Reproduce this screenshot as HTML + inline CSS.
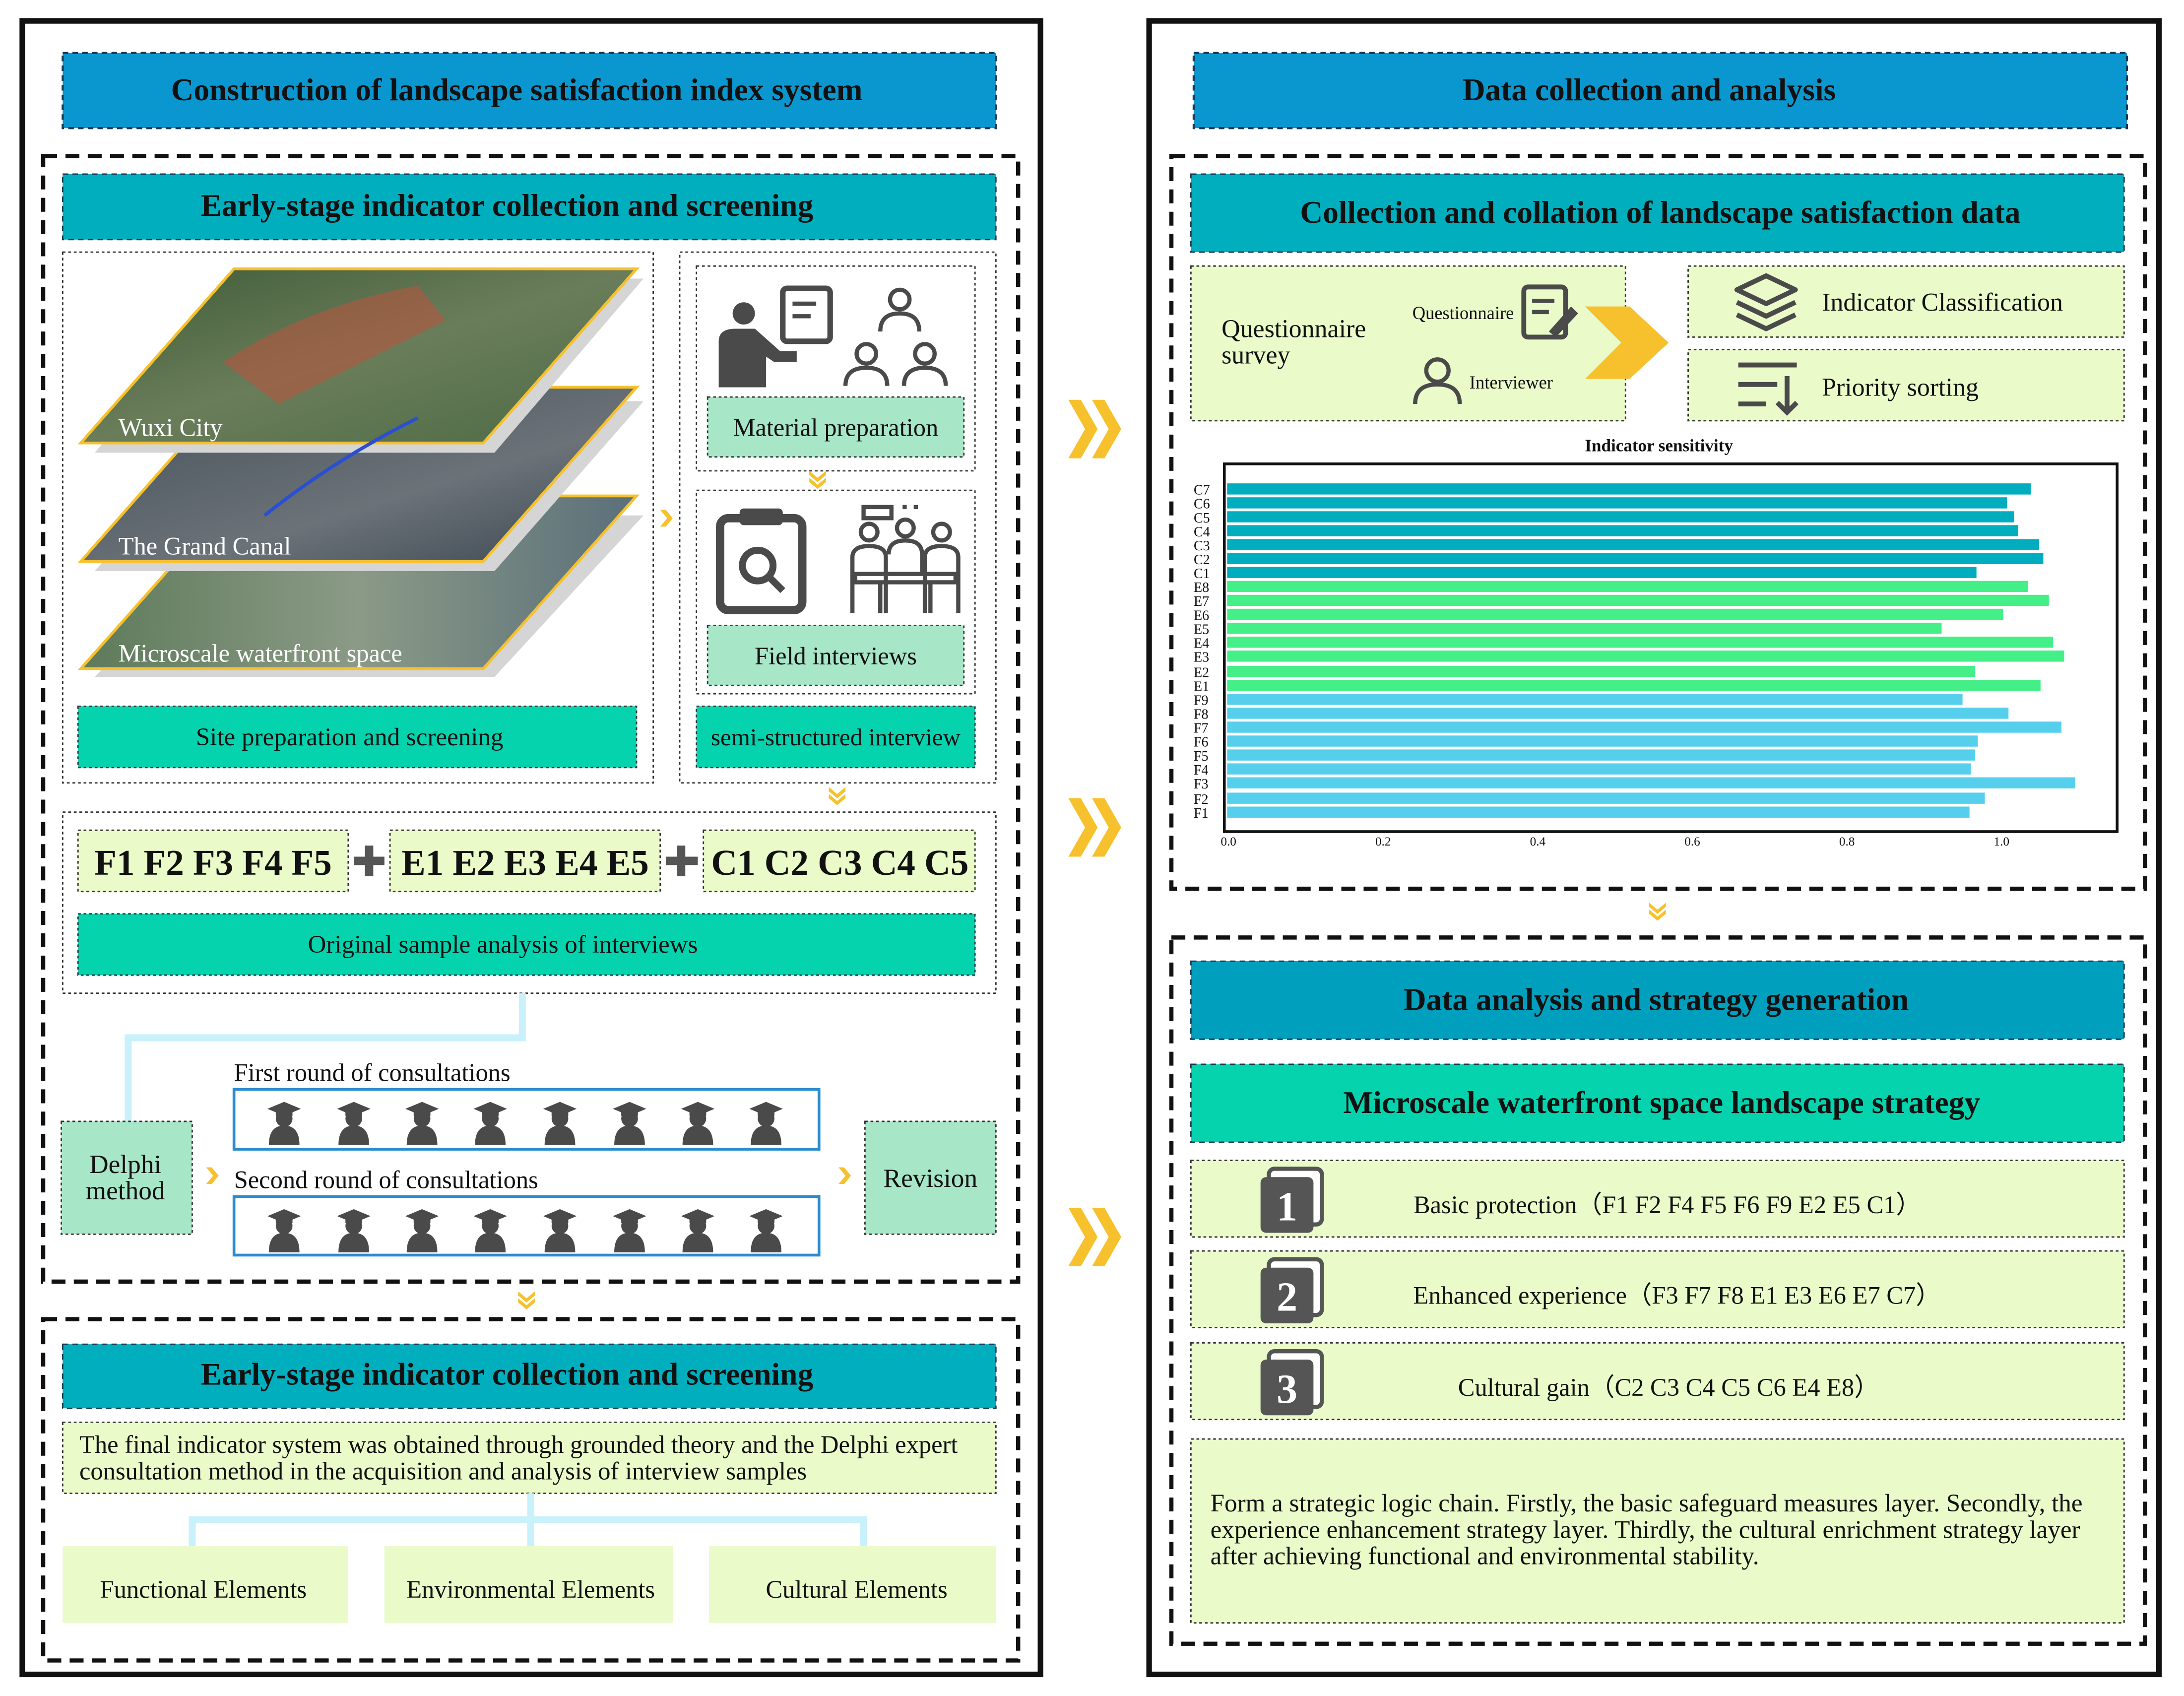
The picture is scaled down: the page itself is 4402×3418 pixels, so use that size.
<!DOCTYPE html>
<html><head><meta charset="utf-8"><style>
html,body{margin:0;padding:0;background:#fff;width:4402px;height:3418px;overflow:hidden}
svg{display:block;font-family:"Liberation Serif","Times New Roman",serif}
svg text{font-family:"Liberation Serif","Times New Roman",serif !important;fill:#111}
.b{font-weight:bold}
</style></head><body>
<svg width="4402" height="3418" viewBox="0 0 1568 1217.5" preserveAspectRatio="none" xmlns="http://www.w3.org/2000/svg" font-family="Liberation Serif, serif">
<defs>
<g id="grad">
<path d="M-11,22 Q-11,8 0,8 Q11,8 11,22 Z" fill="#4a4a4a"/>
<circle cx="0" cy="3" r="6" fill="#4a4a4a"/>
<path d="M-12,-4 L0,-9 L12,-4 L0,1 Z" fill="#4a4a4a"/>
<rect x="-6" y="-3" width="12" height="4" fill="#4a4a4a"/>
</g>
<g id="chev"><path d="M0,0 L9,0 L21,21 L9,42 L0,42 L12,21 Z" fill="#f7c12d"/><path d="M17,0 L26,0 L38,21 L26,42 L17,42 L29,21 Z" fill="#f7c12d"/></g>
<g id="schev"><path d="M0,0 L4,0 L9,6 L4,12 L0,12 L5,6 Z" fill="#f7c12d"/></g>
<g id="dchev"><path d="M0,0 L6,5 L12,0 L12,3 L6,8 L0,3 Z" fill="#f7c12d"/><path d="M0,5 L6,10 L12,5 L12,8 L6,13 L0,8 Z" fill="#f7c12d"/></g>
<g id="numic"><rect x="6" y="-6" width="38" height="40" rx="4" fill="#fff" stroke="#555" stroke-width="3"/><rect x="0" y="0" width="38" height="40" rx="4" fill="#555"/></g>
<linearGradient id="g1" x1="0" y1="0" x2="1" y2="1"><stop offset="0" stop-color="#3e5a36"/><stop offset="0.5" stop-color="#6a7d5a"/><stop offset="1" stop-color="#4c6a44"/></linearGradient>
<linearGradient id="g2" x1="0" y1="0" x2="1" y2="1"><stop offset="0" stop-color="#445058"/><stop offset="0.6" stop-color="#6b7278"/><stop offset="1" stop-color="#3a4650"/></linearGradient>
<linearGradient id="g3" x1="0" y1="0" x2="1" y2="0"><stop offset="0" stop-color="#5e7a5a"/><stop offset="0.5" stop-color="#8b9a86"/><stop offset="1" stop-color="#5a6f7a"/></linearGradient>
</defs>

<rect x="16" y="15" width="731" height="1187" fill="none" stroke="#111" stroke-width="4"/>
<rect x="825" y="15" width="725" height="1187" fill="none" stroke="#111" stroke-width="4"/>

<rect x="45" y="38" width="670" height="54" fill="#0a97cf" stroke="#1a3a55" stroke-width="1.5" stroke-dasharray="4,3"/>
<text x="371" y="72" font-size="22.6" text-anchor="middle" class="b">Construction of landscape satisfaction index system</text>
<rect x="31" y="112" width="700" height="808" fill="none" stroke="#111" stroke-width="3" stroke-dasharray="10,6"/>
<rect x="45" y="125" width="670" height="47" fill="#00aebe" stroke="#1a3a55" stroke-width="1" stroke-dasharray="4,3"/>
<text x="364" y="155" font-size="22.6" text-anchor="middle" class="b">Early-stage indicator collection and screening</text>

<rect x="45" y="181" width="424" height="381" fill="none" stroke="#333" stroke-width="1" stroke-dasharray="2,2"/>
<rect x="488" y="181" width="227" height="381" fill="none" stroke="#333" stroke-width="1" stroke-dasharray="2,2"/>
<polygon points="68,486 175,370 462,370 355,486" fill="#d5d5d5"/>
<polygon points="58,480 168,356 457,356 347,480" fill="url(#g3)" stroke="#f7c12d" stroke-width="2"/>
<polygon points="68,410 175,288 462,288 355,410" fill="#d5d5d5"/>
<polygon points="58,403 168,278 457,278 347,403" fill="url(#g2)" stroke="#f7c12d" stroke-width="2"/>
<polygon points="68,325 175,200 462,200 355,325" fill="#d5d5d5"/>
<polygon points="58,318 168,193 457,193 347,318" fill="url(#g1)" stroke="#f7c12d" stroke-width="2"/>
<path d="M160,260 Q220,220 300,205 L320,230 Q260,260 200,290 Z" fill="#b4553f" opacity="0.6"/>
<path d="M190,370 Q240,330 300,300" fill="none" stroke="#2a4fd0" stroke-width="2.5"/>
<text x="85" y="313" font-size="18" style="fill:#fff">Wuxi City</text>
<text x="85" y="398" font-size="18" style="fill:#fff">The Grand Canal</text>
<text x="85" y="475" font-size="18" style="fill:#fff">Microscale waterfront space</text>
<rect x="56" y="507" width="401" height="44" fill="#05d3ae" stroke="#333" stroke-width="1" stroke-dasharray="2,2"/>
<text x="251" y="535" font-size="18.2" text-anchor="middle">Site preparation and screening</text>

<rect x="500" y="191" width="200" height="147" fill="none" stroke="#333" stroke-width="1" stroke-dasharray="2,2"/>
<circle cx="534" cy="225" r="8" fill="#4a4a4a"/>
<path d="M516,278 L516,245 Q516,236 528,236 L542,236 L560,252 L572,252 L572,260 L556,260 L550,256 L550,278 Z" fill="#4a4a4a"/>
<rect x="562" y="207" width="34" height="38" rx="3" fill="none" stroke="#4a4a4a" stroke-width="4"/>
<path d="M569,218 H586 M569,227 H582" stroke="#4a4a4a" stroke-width="3"/>
<g fill="none" stroke="#4a4a4a" stroke-width="3"><circle cx="646" cy="215" r="7"/><path d="M632,238 Q632,225 646,225 Q660,225 660,238"/><circle cx="622" cy="254" r="7"/><path d="M607,277 Q607,264 622,264 Q637,264 637,277"/><circle cx="664" cy="254" r="7"/><path d="M649,277 Q649,264 664,264 Q679,264 679,277"/></g>
<rect x="508" y="285" width="184" height="43" fill="#a8e6c8" stroke="#333" stroke-width="1" stroke-dasharray="2,2"/>
<text x="600" y="313" font-size="18" text-anchor="middle">Material preparation</text>
<use href="#dchev" transform="translate(581,338)"/>
<rect x="500" y="352" width="200" height="146" fill="none" stroke="#333" stroke-width="1" stroke-dasharray="2,2"/>
<rect x="517" y="372" width="59" height="66" rx="6" fill="none" stroke="#4a4a4a" stroke-width="6"/>
<rect x="531" y="365" width="31" height="12" rx="3" fill="#4a4a4a"/>
<circle cx="544" cy="406" r="11" fill="none" stroke="#4a4a4a" stroke-width="5"/>
<path d="M552,414 L562,424" stroke="#4a4a4a" stroke-width="5"/>
<g fill="none" stroke="#4a4a4a" stroke-width="3"><circle cx="624" cy="382" r="6"/><circle cx="650" cy="379" r="6"/><circle cx="676" cy="382" r="6"/><path d="M612,440 V400 Q612,392 624,392 Q636,392 636,400 V440"/><path d="M664,440 V400 Q664,392 676,392 Q688,392 688,400 V440"/><path d="M638,398 Q638,388 650,388 Q662,388 662,398 V412"/><rect x="614" y="412" width="72" height="6"/><path d="M632,418 V440 M668,418 V440"/><path d="M620,364 H640 V372 H620 Z M648,364 h3 M656,364 h3"/></g>
<rect x="508" y="449" width="184" height="43" fill="#a8e6c8" stroke="#333" stroke-width="1" stroke-dasharray="2,2"/>
<text x="600" y="477" font-size="18" text-anchor="middle">Field interviews</text>
<rect x="500" y="507" width="200" height="44" fill="#05d3ae" stroke="#333" stroke-width="1" stroke-dasharray="2,2"/>
<text x="600" y="535" font-size="17.5" text-anchor="middle">semi-structured interview</text>
<use href="#schev" transform="translate(474,366)"/>
<use href="#dchev" transform="translate(595,565)"/>

<rect x="45" y="583" width="670" height="130" fill="none" stroke="#333" stroke-width="1" stroke-dasharray="2,2"/>
<rect x="56" y="596" width="194" height="44" fill="#eafac8" stroke="#333" stroke-width="1" stroke-dasharray="2,2"/>
<rect x="280" y="596" width="194" height="44" fill="#eafac8" stroke="#333" stroke-width="1" stroke-dasharray="2,2"/>
<rect x="505" y="596" width="195" height="44" fill="#eafac8" stroke="#333" stroke-width="1" stroke-dasharray="2,2"/>
<text x="153" y="628" font-size="26" text-anchor="middle" class="b">F1 F2 F3 F4 F5</text>
<text x="377" y="628" font-size="26" text-anchor="middle" class="b">E1 E2 E3 E4 E5</text>
<text x="603" y="628" font-size="26" text-anchor="middle" class="b">C1 C2 C3 C4 C5</text>
<path d="M254,618 H276 M265,607 V629 M478,618 H501 M489,607 V629" stroke="#555" stroke-width="6"/>
<rect x="56" y="656" width="644" height="44" fill="#05d3ae" stroke="#333" stroke-width="1" stroke-dasharray="2,2"/>
<text x="361" y="684" font-size="18.2" text-anchor="middle">Original sample analysis of interviews</text>

<path d="M375,713 V745 H92 V805" fill="none" stroke="#c9f1fb" stroke-width="5"/>
<rect x="44" y="805" width="94" height="81" fill="#a8e6c8" stroke="#333" stroke-width="1" stroke-dasharray="2,2"/>
<text x="90" y="842" font-size="19" text-anchor="middle">Delphi</text>
<text x="90" y="861" font-size="19" text-anchor="middle">method</text>
<use href="#schev" transform="translate(148,838)"/>
<text x="168" y="776" font-size="18">First round of consultations</text>
<rect x="168" y="782" width="420" height="43" fill="#fff" stroke="#2a8bd0" stroke-width="2"/>
<text x="168" y="853" font-size="18">Second round of consultations</text>
<rect x="168" y="859" width="420" height="42" fill="#fff" stroke="#2a8bd0" stroke-width="2"/>
<g>
<use href="#grad" x="204" y="800"/><use href="#grad" x="254" y="800"/><use href="#grad" x="303" y="800"/><use href="#grad" x="352" y="800"/><use href="#grad" x="402" y="800"/><use href="#grad" x="452" y="800"/><use href="#grad" x="501" y="800"/><use href="#grad" x="550" y="800"/>
<use href="#grad" x="204" y="877"/><use href="#grad" x="254" y="877"/><use href="#grad" x="303" y="877"/><use href="#grad" x="352" y="877"/><use href="#grad" x="402" y="877"/><use href="#grad" x="452" y="877"/><use href="#grad" x="501" y="877"/><use href="#grad" x="550" y="877"/>
</g>
<use href="#schev" transform="translate(602,838)"/>
<rect x="621" y="805" width="94" height="81" fill="#a8e6c8" stroke="#333" stroke-width="1" stroke-dasharray="2,2"/>
<text x="668" y="852" font-size="19" text-anchor="middle">Revision</text>
<use href="#dchev" transform="translate(372,927)"/>

<rect x="31" y="947" width="700" height="245" fill="none" stroke="#111" stroke-width="3" stroke-dasharray="10,6"/>
<rect x="45" y="965" width="670" height="46" fill="#00aebe" stroke="#1a3a55" stroke-width="1" stroke-dasharray="4,3"/>
<text x="364" y="994" font-size="22.6" text-anchor="middle" class="b">Early-stage indicator collection and screening</text>
<rect x="45" y="1021" width="670" height="51" fill="#eafac8" stroke="#333" stroke-width="1" stroke-dasharray="2,2"/>
<text x="57" y="1043" font-size="18">The final indicator system was obtained through grounded theory and the Delphi expert</text>
<text x="57" y="1062" font-size="18">consultation method in the acquisition and analysis of interview samples</text>
<path d="M381,1072 V1110 M138,1110 V1091 H620 V1110" fill="none" stroke="#c9f1fb" stroke-width="5"/>
<rect x="45" y="1110" width="205" height="55" fill="#eafac8"/>
<rect x="276" y="1110" width="207" height="55" fill="#eafac8"/>
<rect x="509" y="1110" width="206" height="55" fill="#eafac8"/>
<text x="146" y="1147" font-size="18" text-anchor="middle">Functional Elements</text>
<text x="381" y="1147" font-size="18" text-anchor="middle">Environmental Elements</text>
<text x="615" y="1147" font-size="18" text-anchor="middle">Cultural Elements</text>

<use href="#chev" transform="translate(767,287)"/>
<use href="#chev" transform="translate(767,573)"/>
<use href="#chev" transform="translate(767,867)"/>

<rect x="857" y="38" width="670" height="54" fill="#0a97cf" stroke="#1a3a55" stroke-width="1.5" stroke-dasharray="4,3"/>
<text x="1184" y="72" font-size="22.6" text-anchor="middle" class="b">Data collection and analysis</text>
<rect x="841" y="112" width="699" height="526" fill="none" stroke="#111" stroke-width="3" stroke-dasharray="10,6"/>
<rect x="855" y="125" width="670" height="56" fill="#00aebe" stroke="#1a3a55" stroke-width="1" stroke-dasharray="4,3"/>
<text x="1192" y="160" font-size="22.6" text-anchor="middle" class="b">Collection and collation of landscape satisfaction data</text>
<rect x="855" y="191" width="312" height="111" fill="#eafac8" stroke="#333" stroke-width="1" stroke-dasharray="2,2"/>
<text x="877" y="242" font-size="18.5">Questionnaire</text>
<text x="877" y="261" font-size="18.5">survey</text>
<text x="1014" y="229" font-size="13">Questionnaire</text>
<rect x="1094" y="206" width="30" height="36" rx="3" fill="none" stroke="#4a4a4a" stroke-width="3.5"/>
<path d="M1100,216 H1116 M1100,224 H1112" stroke="#4a4a4a" stroke-width="3"/>
<path d="M1112,238 L1128,220 L1133,225 L1117,242 Z" fill="#4a4a4a"/>
<g fill="none" stroke="#4a4a4a" stroke-width="3"><circle cx="1032" cy="266" r="8"/><path d="M1016,290 Q1016,276 1032,276 Q1048,276 1048,290"/></g>
<text x="1055" y="279" font-size="13">Interviewer</text>
<path d="M1138,220 H1170 L1198,246 L1170,272 H1138 L1164,246 Z" fill="#f7c12d"/>
<rect x="1212" y="191" width="313" height="51" fill="#eafac8" stroke="#333" stroke-width="1" stroke-dasharray="2,2"/>
<rect x="1212" y="251" width="313" height="51" fill="#eafac8" stroke="#333" stroke-width="1" stroke-dasharray="2,2"/>
<g fill="none" stroke="#4a4a4a" stroke-width="3.5" stroke-linejoin="round"><path d="M1247,208 L1268,198 L1289,208 L1268,218 Z"/><path d="M1247,217 L1268,227 L1289,217"/><path d="M1247,226 L1268,236 L1289,226"/></g>
<text x="1308" y="223" font-size="18.5">Indicator Classification</text>
<g stroke="#4a4a4a" stroke-width="3.5"><path d="M1248,262 H1290 M1248,276 H1276 M1248,290 H1268 M1283,270 V296 M1276,289 L1283,296 L1290,289" fill="none"/></g>
<text x="1308" y="284" font-size="18.5">Priority sorting</text>

<text x="1191" y="324" font-size="12.5" text-anchor="middle" class="b">Indicator sensitivity</text>
<rect x="879" y="333" width="641" height="264" fill="#fff" stroke="#111" stroke-width="2"/>
<g font-size="10">
<text x="857" y="355">C7</text><text x="857" y="365">C6</text><text x="857" y="375">C5</text><text x="857" y="385">C4</text><text x="857" y="395">C3</text><text x="857" y="405">C2</text><text x="857" y="415">C1</text><text x="857" y="425">E8</text><text x="857" y="435">E7</text><text x="857" y="445">E6</text><text x="857" y="455">E5</text><text x="857" y="465">E4</text><text x="857" y="475">E3</text><text x="857" y="486">E2</text><text x="857" y="496">E1</text><text x="857" y="506">F9</text><text x="857" y="516">F8</text><text x="857" y="526">F7</text><text x="857" y="536">F6</text><text x="857" y="546">F5</text><text x="857" y="556">F4</text><text x="857" y="566">F3</text><text x="857" y="577">F2</text><text x="857" y="587">F1</text>
</g>
<g fill="#00adbf">
<rect x="881" y="347" width="577" height="8"/><rect x="881" y="357" width="560" height="8"/><rect x="881" y="367" width="565" height="8"/><rect x="881" y="377" width="568" height="8"/><rect x="881" y="387" width="583" height="8"/><rect x="881" y="397" width="586" height="8"/><rect x="881" y="407" width="538" height="8"/>
</g>
<g fill="#44ef88">
<rect x="881" y="417" width="575" height="8"/><rect x="881" y="427" width="590" height="8"/><rect x="881" y="437" width="557" height="8"/><rect x="881" y="447" width="513" height="8"/><rect x="881" y="457" width="593" height="8"/><rect x="881" y="467" width="601" height="8"/><rect x="881" y="478" width="537" height="8"/><rect x="881" y="488" width="584" height="8"/>
</g>
<g fill="#56cfec">
<rect x="881" y="498" width="528" height="8"/><rect x="881" y="508" width="561" height="8"/><rect x="881" y="518" width="599" height="8"/><rect x="881" y="528" width="539" height="8"/><rect x="881" y="538" width="537" height="8"/><rect x="881" y="548" width="534" height="8"/><rect x="881" y="558" width="609" height="8"/><rect x="881" y="569" width="544" height="8"/><rect x="881" y="579" width="533" height="8"/>
</g>
<g font-size="9" text-anchor="middle"><text x="882" y="607">0.0</text><text x="993" y="607">0.2</text><text x="1104" y="607">0.4</text><text x="1215" y="607">0.6</text><text x="1326" y="607">0.8</text><text x="1437" y="607">1.0</text></g>

<use href="#dchev" transform="translate(1184,648)"/>
<rect x="841" y="673" width="699" height="507" fill="none" stroke="#111" stroke-width="3" stroke-dasharray="10,6"/>
<rect x="855" y="690" width="670" height="56" fill="#009fbd" stroke="#1a3a55" stroke-width="1" stroke-dasharray="4,3"/>
<text x="1189" y="725" font-size="22.6" text-anchor="middle" class="b">Data analysis and strategy generation</text>
<rect x="855" y="764" width="670" height="56" fill="#05d3ae" stroke="#1a3a55" stroke-width="1" stroke-dasharray="4,3"/>
<text x="1193" y="799" font-size="22.6" text-anchor="middle" class="b">Microscale waterfront space landscape strategy</text>
<rect x="855" y="833" width="670" height="55" fill="#eafac8" stroke="#333" stroke-width="1" stroke-dasharray="2,2"/>
<rect x="855" y="898" width="670" height="55" fill="#eafac8" stroke="#333" stroke-width="1" stroke-dasharray="2,2"/>
<rect x="855" y="964" width="670" height="55" fill="#eafac8" stroke="#333" stroke-width="1" stroke-dasharray="2,2"/>
<use href="#numic" transform="translate(905,845)"/>
<use href="#numic" transform="translate(905,910)"/>
<use href="#numic" transform="translate(905,976)"/>
<g font-size="30" class="b" text-anchor="middle"><text x="924" y="876" style="fill:#fff">1</text><text x="924" y="941" style="fill:#fff">2</text><text x="924" y="1007" style="fill:#fff">3</text></g>
<text x="1197" y="871" font-size="18" text-anchor="middle">Basic protection（F1 F2 F4 F5 F6 F9 E2 E5 C1）</text>
<text x="1204" y="936" font-size="18" text-anchor="middle">Enhanced experience（F3 F7 F8 E1 E3 E6 E7 C7）</text>
<text x="1198" y="1002" font-size="18" text-anchor="middle">Cultural gain（C2 C3 C4 C5 C6 E4 E8）</text>
<rect x="855" y="1033" width="670" height="132" fill="#eafac8" stroke="#333" stroke-width="1" stroke-dasharray="2,2"/>
<text x="869" y="1085" font-size="18.2">Form a strategic logic chain. Firstly, the basic safeguard measures layer. Secondly, the</text>
<text x="869" y="1104" font-size="18.2">experience enhancement strategy layer. Thirdly, the cultural enrichment strategy layer</text>
<text x="869" y="1123" font-size="18.2">after achieving functional and environmental stability.</text>
</svg>
</body></html>
